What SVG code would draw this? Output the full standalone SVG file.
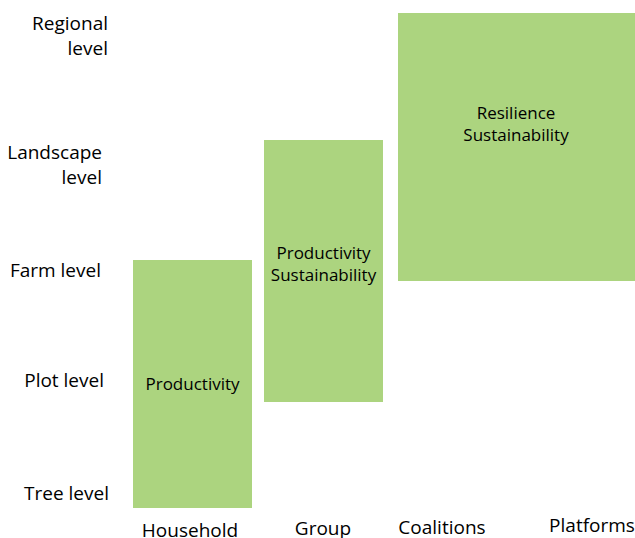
<svg xmlns="http://www.w3.org/2000/svg" width="635" height="538" viewBox="0 0 635 538">
<style>
.box{fill:#acd47f}
.lbl{font-family:"Open Sans","Noto Sans",sans-serif;font-size:19px;fill:#000}
.in{font-family:"Open Sans","Noto Sans",sans-serif;font-size:17px;fill:#000;text-anchor:middle}
.r{text-anchor:end}
.m{text-anchor:middle}
</style>
<rect width="635" height="538" fill="#fff"/>
<g id="axis-levels">
<text class="lbl r" x="108" y="30">Regional</text>
<text class="lbl r" x="108" y="55">level</text>
<text class="lbl r" x="102" y="159">Landscape</text>
<text class="lbl r" x="102" y="184">level</text>
<text class="lbl r" x="101" y="277">Farm level</text>
<text class="lbl r" x="104" y="387">Plot level</text>
<text class="lbl r" x="109" y="500">Tree level</text>
</g>
<g id="axis-actors">
<text class="lbl m" x="190" y="537">Household</text>
<text class="lbl m" x="323" y="535">Group</text>
<text class="lbl m" x="442" y="534">Coalitions</text>
<text class="lbl m" x="592" y="532">Platforms</text>
</g>
<g id="household">
<rect class="box" x="133" y="260" width="119" height="248"/>
<text class="in" x="192.5" y="390">Productivity</text>
</g>
<g id="group">
<rect class="box" x="264" y="140" width="119" height="262"/>
<text class="in" x="323.5" y="259">Productivity</text>
<text class="in" x="323.5" y="281">Sustainability</text>
</g>
<g id="coalitions">
<rect class="box" x="398" y="13" width="237" height="268"/>
<text class="in" x="516" y="119">Resilience</text>
<text class="in" x="516" y="141">Sustainability</text>
</g>
<g id="connectors"></g>
</svg>
